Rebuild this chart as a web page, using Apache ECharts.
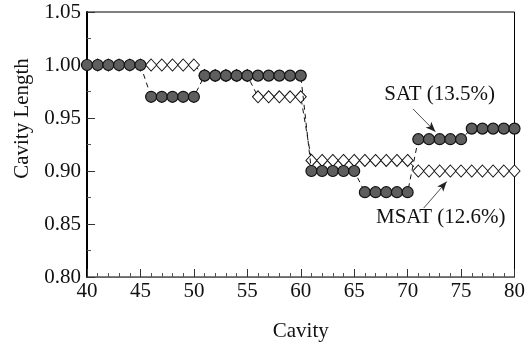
<!DOCTYPE html>
<html>
<head>
<meta charset="utf-8">
<script src="https://cdn.jsdelivr.net/npm/echarts@6/dist/echarts.min.js"></script>
<style>
  html, body { margin: 0; padding: 0; background: #fff; }
  #chart { width: 528px; height: 347px; }
</style>
</head>
<body>
<div id="chart"></div>
<script>
// cavity index 40..80
const cavities = [];
for (let c = 40; c <= 80; c++) cavities.push(c);

// normalized cavity length
const satValues = [
  1.00, 1.00, 1.00, 1.00, 1.00, 1.00,
  0.97, 0.97, 0.97, 0.97, 0.97,
  0.99, 0.99, 0.99, 0.99, 0.99, 0.99, 0.99, 0.99, 0.99, 0.99,
  0.90, 0.90, 0.90, 0.90, 0.90,
  0.88, 0.88, 0.88, 0.88, 0.88,
  0.93, 0.93, 0.93, 0.93, 0.93,
  0.94, 0.94, 0.94, 0.94, 0.94
];
const msatValues = [
  1.00, 1.00, 1.00, 1.00, 1.00, 1.00,
  1.00, 1.00, 1.00, 1.00, 1.00,
  0.99, 0.99, 0.99, 0.99, 0.99,
  0.97, 0.97, 0.97, 0.97, 0.97,
  0.91, 0.91, 0.91, 0.91, 0.91, 0.91, 0.91, 0.91, 0.91, 0.91,
  0.90, 0.90, 0.90, 0.90, 0.90, 0.90, 0.90, 0.90, 0.90, 0.90
];

const seriesLabels = ['SAT (13.5%)', 'MSAT (12.6%)'];
// [label x, label y, arrow tail x, arrow tail y, arrow head x, arrow head y] in data units
const satNote = [73.0, 0.9726, 70.5, 0.9586, 72.6, 0.937];
const msatNote = [73.1, 0.856, 71.5, 0.865, 73.66, 0.890];

const FONT = '"Liberation Serif", "DejaVu Serif", serif';

const chart = echarts.init(document.getElementById('chart'));

function arrowLine(n) {
  return {
    silent: true,
    symbol: ['none', 'arrow'],
    symbolSize: [6, 10],
    lineStyle: { color: '#222', type: 'solid', width: 0.8 },
    label: { show: false },
    data: [[{ coord: [n[2], n[3]] }, { coord: [n[4], n[5]] }]]
  };
}

chart.setOption({
  animation: false,
  grid: {
    left: 87, right: 12, top: 12, bottom: 67,
    show: true, borderColor: '#000', borderWidth: 1
  },
  xAxis: {
    type: 'value',
    min: 40, max: 80, interval: 5,
    name: 'Cavity',
    nameLocation: 'middle',
    nameGap: 44,
    nameTextStyle: { fontFamily: FONT, fontSize: 21, color: '#111' },
    axisLine: { lineStyle: { color: '#666', width: 1 } },
    axisTick: { inside: true, length: 8, lineStyle: { color: '#333' } },
    minorTick: { show: true, splitNumber: 5, length: 4, lineStyle: { color: '#555' } },
    splitLine: { show: false },
    axisLabel: { fontFamily: FONT, fontSize: 21, color: '#111', margin: 4 }
  },
  yAxis: {
    type: 'value',
    min: 0.80, max: 1.05, interval: 0.05,
    name: 'Cavity Length',
    nameLocation: 'middle',
    nameGap: 52,
    nameTextStyle: { fontFamily: FONT, fontSize: 21, color: '#111', padding: [0, 0, 0, 52] },
    axisLine: { lineStyle: { color: '#000', width: 2 } },
    axisTick: { inside: true, length: 8, lineStyle: { color: '#333' } },
    minorTick: { show: true, splitNumber: 2, length: 4, lineStyle: { color: '#555' } },
    splitLine: { show: false },
    axisLabel: {
      fontFamily: FONT, fontSize: 21, color: '#111', margin: 6,
      formatter: v => v.toFixed(2)
    }
  },
  series: [
    {
      name: seriesLabels[1],
      type: 'line',
      data: cavities.map((c, i) => [c, msatValues[i]]),
      symbol: 'diamond',
      symbolSize: [11, 12],
      showAllSymbol: true,
      itemStyle: { color: '#fff', borderColor: '#111', borderWidth: 1 },
      lineStyle: { color: '#111', type: [5, 4], width: 1 },
      z: 2,
      markLine: arrowLine(msatNote)
    },
    {
      name: seriesLabels[0],
      type: 'line',
      data: cavities.map((c, i) => [c, satValues[i]]),
      symbol: 'circle',
      symbolSize: 11,
      showAllSymbol: true,
      itemStyle: { color: '#5e5e5e', borderColor: '#111', borderWidth: 1.2 },
      lineStyle: { color: '#111', type: [5, 4], width: 1 },
      z: 3,
      markLine: arrowLine(satNote)
    }
  ]
});

// series labels placed from data coordinates
function noteText(label, n) {
  const p = chart.convertToPixel({ gridIndex: 0 }, [n[0], n[1]]);
  return {
    type: 'text',
    x: p[0], y: p[1],
    style: {
      text: label, fontFamily: FONT, fontSize: 21, fill: '#111',
      align: 'center', verticalAlign: 'middle'
    },
    z: 10
  };
}
chart.setOption({
  graphic: [noteText(seriesLabels[0], satNote), noteText(seriesLabels[1], msatNote)]
});
</script>
</body>
</html>
